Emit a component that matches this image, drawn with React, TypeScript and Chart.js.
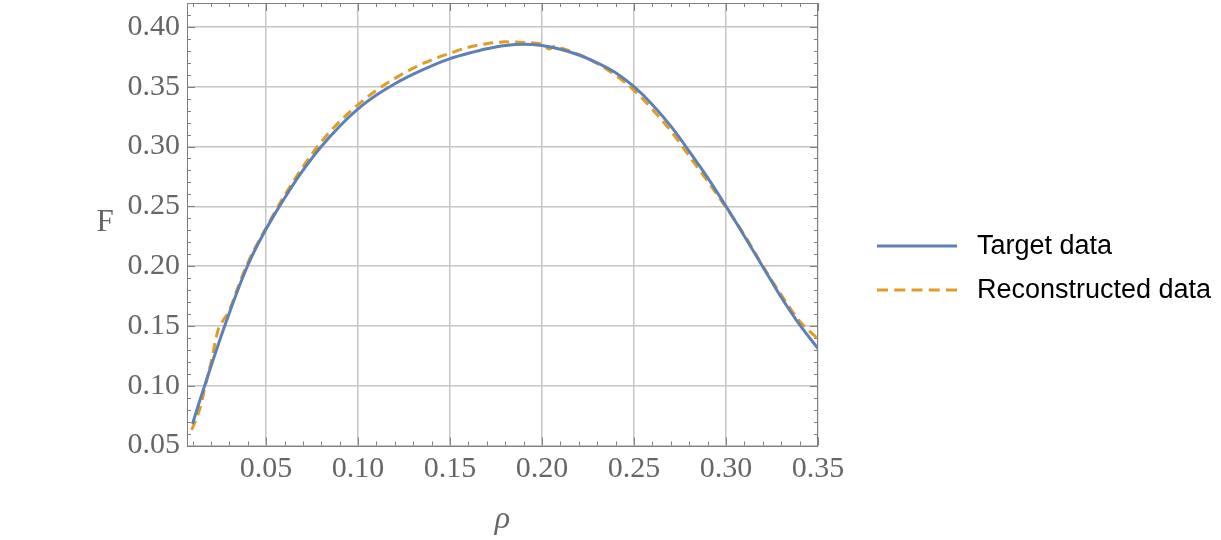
import React, { useEffect, useRef } from 'react';
import { Chart, registerables } from 'chart.js';

Chart.register(...registerables);

// ---- data ----
const targetRho = [0.010, 0.0125, 0.015, 0.0175, 0.020, 0.0225, 0.025, 0.0275, 0.030, 0.035, 0.040, 0.045, 0.050, 0.055, 0.060, 0.065, 0.070, 0.080, 0.090, 0.10, 0.11, 0.12, 0.13, 0.14, 0.15, 0.16, 0.17, 0.18, 0.19, 0.20, 0.21, 0.22, 0.23, 0.24, 0.25, 0.26, 0.27, 0.28, 0.29, 0.30, 0.31, 0.32, 0.33, 0.34, 0.35];
const targetF = [0.068, 0.0805, 0.0925, 0.1043, 0.116, 0.1275, 0.139, 0.150, 0.1608, 0.1815, 0.2005, 0.2168, 0.231, 0.2443, 0.2568, 0.2688, 0.280, 0.300, 0.317, 0.3315, 0.343, 0.3525, 0.3605, 0.3675, 0.3735, 0.378, 0.3818, 0.3845, 0.3856, 0.3845, 0.3813, 0.3765, 0.370, 0.3617, 0.350, 0.335, 0.317, 0.296, 0.274, 0.250, 0.225, 0.1995, 0.174, 0.151, 0.131];

const reconRho = [0.0095, 0.012, 0.014, 0.017, 0.020, 0.024, 0.026, 0.030, 0.035, 0.040, 0.045, 0.050, 0.060, 0.070, 0.080, 0.090, 0.100, 0.110, 0.120, 0.130, 0.140, 0.150, 0.160, 0.170, 0.180, 0.190, 0.200, 0.204, 0.207, 0.210, 0.220, 0.230, 0.240, 0.250, 0.260, 0.270, 0.280, 0.290, 0.300, 0.310, 0.320, 0.330, 0.340, 0.350];
const reconF = [0.063, 0.072, 0.081, 0.100, 0.119, 0.147, 0.153, 0.163, 0.1835, 0.2025, 0.218, 0.232, 0.259, 0.283, 0.304, 0.321, 0.335, 0.347, 0.357, 0.3655, 0.3725, 0.378, 0.383, 0.386, 0.3875, 0.387, 0.3855, 0.3815, 0.384, 0.3825, 0.377, 0.3695, 0.3595, 0.347, 0.331, 0.313, 0.292, 0.271, 0.249, 0.226, 0.200, 0.176, 0.154, 0.139];

const xTickValues = [0.05, 0.10, 0.15, 0.20, 0.25, 0.30, 0.35];
const yTickValues = [0.05, 0.10, 0.15, 0.20, 0.25, 0.30, 0.35, 0.40];
const seriesLabels = ['Target data', 'Reconstructed data'];
const seriesColors = ['#5E81B5', '#E19C24'];
const xTitle = 'ρ';
const yTitle = 'F';

const X_MIN = 0.007;
const X_MAX = 0.35;
const Y_MIN = 0.05;
const Y_MAX = 0.42;

const SERIF = "'Liberation Serif', 'Times New Roman', serif";
const SANS = "'Liberation Sans', Arial, sans-serif";
const TICK_GRAY = '#666666';
const FRAME_GRAY = '#808080';
const DASH = [10, 6];

const framePlugin = {
  id: 'mmaFrame',
  afterDatasetsDraw(chart: any) {
    const { ctx, chartArea: a, scales } = chart;
    const xs = scales.x;
    const ys = scales.y;
    ctx.save();
    ctx.strokeStyle = FRAME_GRAY;
    ctx.lineWidth = 1;
    ctx.strokeRect(Math.round(a.left) + 0.5, Math.round(a.top) + 0.5, Math.round(a.right - a.left) - 1, Math.round(a.bottom - a.top));
    ctx.beginPath();
    for (let i = 1; i <= 35; i++) {
      const v = i / 100;
      if (v < X_MIN) continue;
      const len = i % 5 === 0 ? 8 : 4;
      const px = Math.round(xs.getPixelForValue(v)) + 0.5;
      ctx.moveTo(px, a.bottom);
      ctx.lineTo(px, a.bottom - len);
      ctx.moveTo(px, a.top);
      ctx.lineTo(px, a.top + len);
    }
    for (let i = 5; i <= 42; i++) {
      const v = i / 100;
      const len = i % 5 === 0 ? 8 : 4;
      const py = Math.round(ys.getPixelForValue(v)) + 0.5;
      ctx.moveTo(a.left, py);
      ctx.lineTo(a.left + len, py);
      ctx.moveTo(a.right, py);
      ctx.lineTo(a.right - len, py);
    }
    ctx.stroke();
    ctx.restore();
  },
  afterDraw(chart: any) {
    const { ctx, chartArea: a } = chart;
    ctx.save();
    // axis titles
    ctx.fillStyle = TICK_GRAY;
    ctx.font = `31px ${SERIF}`;
    ctx.textAlign = 'center';
    ctx.textBaseline = 'middle';
    ctx.fillText(yTitle, 105, 223);
    ctx.font = `italic 32px ${SERIF}`;
    ctx.textBaseline = 'alphabetic';
    ctx.fillText(xTitle, (a.left + a.right) / 2, 528);

    // legend
    const lx0 = 877;
    const lx1 = 957;
    const rows = [246, 290];
    ctx.font = `27px ${SANS}`;
    ctx.textAlign = 'left';
    ctx.textBaseline = 'middle';
    seriesLabels.forEach((label, i) => {
      ctx.strokeStyle = seriesColors[i];
      ctx.lineWidth = 3;
      ctx.setLineDash(i === 1 ? [11, 6.25] : []);
      ctx.beginPath();
      ctx.moveTo(lx0, rows[i]);
      ctx.lineTo(lx1, rows[i]);
      ctx.stroke();
      ctx.setLineDash([]);
      ctx.fillStyle = '#000000';
      ctx.fillText(label, 977, rows[i] + 1);
    });
    ctx.restore();
  },
};

export default function App() {
  const ref = useRef<HTMLCanvasElement | null>(null);

  useEffect(() => {
    document.body.style.margin = '0';
    const canvas = ref.current;
    if (!canvas) return;
    const chart = new Chart(canvas, {
      type: 'line',
      data: {
        datasets: [
          {
            label: seriesLabels[0],
            data: targetRho.map((x, i) => ({ x, y: targetF[i] })),
            borderColor: seriesColors[0],
            backgroundColor: seriesColors[0],
            borderWidth: 3,
            pointRadius: 0,
            cubicInterpolationMode: 'monotone',
            fill: false,
          },
          {
            label: seriesLabels[1],
            data: reconRho.map((x, i) => ({ x, y: reconF[i] })),
            borderColor: seriesColors[1],
            backgroundColor: seriesColors[1],
            borderWidth: 3,
            borderDash: DASH,
            pointRadius: 0,
            cubicInterpolationMode: 'monotone',
            fill: false,
          },
        ],
      },
      options: {
        animation: false,
        responsive: false,
        devicePixelRatio: 1,
        layout: { padding: { top: 3, right: 403, left: 0, bottom: 0 } },
        plugins: {
          legend: { display: false },
          tooltip: { enabled: false },
        },
        scales: {
          x: {
            type: 'linear',
            min: X_MIN,
            max: X_MAX,
            afterBuildTicks: (s: any) => {
              s.ticks = xTickValues.map((v) => ({ value: v }));
            },
            afterFit: (s: any) => {
              s.height = 94.5;
              s.paddingLeft = 0;
              s.paddingRight = 0;
            },
            ticks: {
              callback: (v: any) => Number(v).toFixed(2),
              font: { family: SERIF, size: 30 },
              color: TICK_GRAY,
              padding: 6,
              maxRotation: 0,
              autoSkip: false,
            },
            grid: { color: '#c6c6c6', lineWidth: 1.5, drawTicks: false },
            border: { display: false },
          },
          y: {
            type: 'linear',
            min: Y_MIN,
            max: Y_MAX,
            afterBuildTicks: (s: any) => {
              s.ticks = yTickValues.map((v) => ({ value: v }));
            },
            afterFit: (s: any) => {
              s.width = 187;
              s.paddingTop = 0;
              s.paddingBottom = 0;
            },
            ticks: {
              callback: (v: any) => Number(v).toFixed(2),
              font: { family: SERIF, size: 30 },
              color: TICK_GRAY,
              padding: 7,
              autoSkip: false,
            },
            grid: { color: '#c6c6c6', lineWidth: 1.5, drawTicks: false },
            border: { display: false },
          },
        },
      },
      plugins: [framePlugin],
    } as any);
    return () => chart.destroy();
  }, []);

  return (
    <div style={{ width: 1221, height: 540, position: 'relative', background: '#ffffff' }}>
      <canvas ref={ref} width={1221} height={540} style={{ display: 'block' }} />
    </div>
  );
}
